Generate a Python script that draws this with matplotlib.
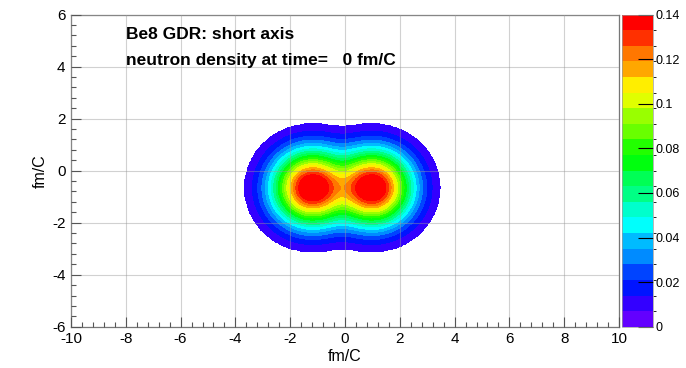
import numpy as np
import matplotlib
matplotlib.use("Agg")
import matplotlib.pyplot as plt
from matplotlib.colors import ListedColormap, BoundaryNorm, hsv_to_rgb
from matplotlib.ticker import MultipleLocator

plt.rcParams['font.family'] = ['Liberation Sans', 'DejaVu Sans']
plt.rcParams['axes.unicode_minus'] = False

# density model: two lobes (x, y) in fm/C
LOBE_X = [-1.2, 1.0]
LOBE_Y = [-0.66, -0.66]
LOBE_PEAK = 0.15
LOBE_SIGMA = 1.0
LOBE_MERGE = 1.87

LEVELS = np.linspace(0.0, 0.14, 21)
CBAR_TICKS = [0, 0.02, 0.04, 0.06, 0.08, 0.1, 0.12, 0.14]
CBAR_LABELS = ['0', '0.02', '0.04', '0.06', '0.08', '0.1', '0.12', '0.14']

TITLE_1 = "Be8 GDR: short axis"
TITLE_2 = "neutron density at time=   0 fm/C"


def root_palette(n):
    # ROOT "pretty" palette: 50 hues from violet to red, picked for n levels
    cols = []
    for k in range(n):
        idx = int((k + 0.99) * 50 / n)
        hue = max(280 - (idx + 1) * 5.6, 0) / 360.0
        cols.append(hsv_to_rgb([hue, 1.0, 1.0]))
    return ListedColormap(cols)


def main():
    x = np.linspace(-10, 10, 801)
    y = np.linspace(-6, 6, 481)
    X, Y = np.meshgrid(x, y)
    acc = np.zeros_like(X)
    for cx, cy in zip(LOBE_X, LOBE_Y):
        r2 = (X - cx) ** 2 + (Y - cy) ** 2
        f = LOBE_PEAK * np.exp(-r2 / (2 * LOBE_SIGMA ** 2))
        acc += f ** LOBE_MERGE
    Z = acc ** (1.0 / LOBE_MERGE)
    Z = np.clip(Z, 0, LEVELS[-1] - 1e-6)
    Z = np.ma.masked_less(Z, LEVELS[1])

    cmap = root_palette(len(LEVELS) - 1)
    norm = BoundaryNorm(LEVELS, cmap.N)

    fig = plt.figure(figsize=(6.86, 3.68), dpi=100)
    ax = fig.add_axes([0.1035, 0.1122, 0.7988, 0.848])
    cax = fig.add_axes([0.9063, 0.1122, 0.0452, 0.848])

    cs = ax.contourf(X, Y, Z, levels=LEVELS, cmap=cmap, norm=norm, zorder=1)

    ax.set_xlim(-10, 10)
    ax.set_ylim(-6, 6)
    ax.xaxis.set_major_locator(MultipleLocator(2))
    ax.xaxis.set_minor_locator(MultipleLocator(0.4))
    ax.yaxis.set_major_locator(MultipleLocator(2))
    ax.yaxis.set_minor_locator(MultipleLocator(0.4))
    ax.grid(True, which='major', color='#999999', alpha=0.45,
            linewidth=0.8, zorder=2)
    ax.set_axisbelow(False)
    ax.tick_params(which='both', direction='in', top=False, right=False,
                   colors='#555555', labelcolor='black', labelsize=11)
    ax.tick_params(which='major', length=7, width=0.8)
    ax.tick_params(which='minor', length=3.5, width=0.8)
    ax.tick_params(axis='y', pad=4)
    ax.tick_params(axis='x', pad=4)
    for s in ax.spines.values():
        s.set_color('#777777')
        s.set_linewidth(0.9)

    ax.set_xlabel("fm/C", fontsize=11.5, labelpad=2)
    ax.set_ylabel("fm/C", fontsize=11.5, labelpad=3)

    ax.text(-8.0, 5.07, TITLE_1, fontsize=12.5, fontweight='bold',
            va='baseline', ha='left', zorder=5)
    ax.text(-8.0, 4.07, TITLE_2, fontsize=12.5, fontweight='bold',
            va='baseline', ha='left', zorder=5)

    cb = fig.colorbar(cs, cax=cax, ticks=CBAR_TICKS)
    cb.ax.set_yticklabels(CBAR_LABELS)
    cb.outline.set_linewidth(0.5)
    cb.outline.set_edgecolor('#999999')
    cb.ax.tick_params(direction='in', length=11, width=0.8, color='black',
                      labelsize=9, pad=2)

    fig.savefig("out.png", dpi=100)


if __name__ == "__main__":
    main()
